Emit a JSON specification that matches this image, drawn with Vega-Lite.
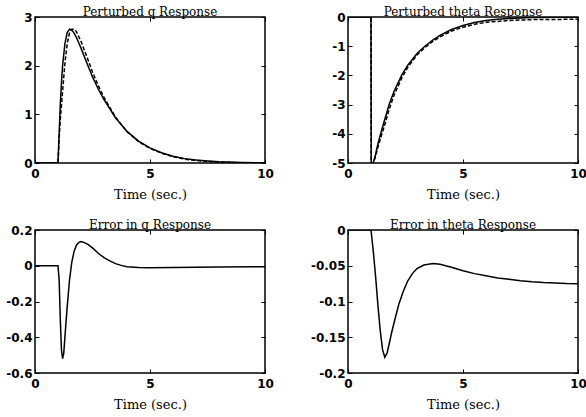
{
  "$schema": "https://vega.github.io/schema/vega-lite/v6.json",
  "background": "white",
  "padding": {"left": 5, "top": 5, "right": 0, "bottom": 0},
  "autosize": {"type": "pad"},
  "datasets": {
    "q": [
      {"t": 0, "v": 0, "s": "a"}, {"t": 1, "v": 0, "s": "a"}, {"t": 1.05, "v": 0.6, "s": "a"}, {"t": 1.1, "v": 1.2, "s": "a"}, {"t": 1.15, "v": 1.65, "s": "a"}, {"t": 1.2, "v": 2.0, "s": "a"}, {"t": 1.3, "v": 2.45, "s": "a"}, {"t": 1.4, "v": 2.68, "s": "a"}, {"t": 1.5, "v": 2.75, "s": "a"}, {"t": 1.6, "v": 2.73, "s": "a"}, {"t": 1.7, "v": 2.67, "s": "a"}, {"t": 1.8, "v": 2.58, "s": "a"}, {"t": 1.9, "v": 2.47, "s": "a"}, {"t": 2.0, "v": 2.36, "s": "a"}, {"t": 2.25, "v": 2.06, "s": "a"}, {"t": 2.5, "v": 1.77, "s": "a"}, {"t": 2.75, "v": 1.52, "s": "a"}, {"t": 3.0, "v": 1.3, "s": "a"}, {"t": 3.5, "v": 0.93, "s": "a"}, {"t": 4.0, "v": 0.65, "s": "a"}, {"t": 4.5, "v": 0.45, "s": "a"}, {"t": 5, "v": 0.31, "s": "a"}, {"t": 5.5, "v": 0.21, "s": "a"}, {"t": 6, "v": 0.14, "s": "a"}, {"t": 6.5, "v": 0.09, "s": "a"}, {"t": 7, "v": 0.06, "s": "a"}, {"t": 7.5, "v": 0.04, "s": "a"}, {"t": 8, "v": 0.025, "s": "a"}, {"t": 9, "v": 0.01, "s": "a"}, {"t": 10, "v": 0.004, "s": "a"},
      {"t": 0, "v": 0, "s": "b"}, {"t": 1, "v": 0, "s": "b"}, {"t": 1.05, "v": 0.52, "s": "b"}, {"t": 1.1, "v": 0.9, "s": "b"}, {"t": 1.15, "v": 1.18, "s": "b"}, {"t": 1.2, "v": 1.48, "s": "b"}, {"t": 1.3, "v": 2.05, "s": "b"}, {"t": 1.4, "v": 2.45, "s": "b"}, {"t": 1.5, "v": 2.67, "s": "b"}, {"t": 1.6, "v": 2.75, "s": "b"}, {"t": 1.7, "v": 2.75, "s": "b"}, {"t": 1.8, "v": 2.7, "s": "b"}, {"t": 1.9, "v": 2.6, "s": "b"}, {"t": 2.0, "v": 2.5, "s": "b"}, {"t": 2.25, "v": 2.19, "s": "b"}, {"t": 2.5, "v": 1.87, "s": "b"}, {"t": 2.75, "v": 1.59, "s": "b"}, {"t": 3.0, "v": 1.35, "s": "b"}, {"t": 3.5, "v": 0.94, "s": "b"}, {"t": 4.0, "v": 0.645, "s": "b"}, {"t": 4.5, "v": 0.44, "s": "b"}, {"t": 5, "v": 0.3, "s": "b"}, {"t": 5.5, "v": 0.2, "s": "b"}, {"t": 6, "v": 0.13, "s": "b"}, {"t": 6.5, "v": 0.08, "s": "b"}, {"t": 7, "v": 0.052, "s": "b"}, {"t": 7.5, "v": 0.032, "s": "b"}, {"t": 8, "v": 0.018, "s": "b"}, {"t": 9, "v": 0.004, "s": "b"}, {"t": 10, "v": 0, "s": "b"}
    ],
    "theta": [
      {"t": 0, "v": 0, "s": "a"}, {"t": 1, "v": 0, "s": "a"}, {"t": 1.01, "v": -5, "s": "a"}, {"t": 1.1, "v": -5, "s": "a"}, {"t": 1.2, "v": -4.7, "s": "a"}, {"t": 1.3, "v": -4.35, "s": "a"}, {"t": 1.42, "v": -4, "s": "a"}, {"t": 1.6, "v": -3.5, "s": "a"}, {"t": 1.79, "v": -3, "s": "a"}, {"t": 2.0, "v": -2.55, "s": "a"}, {"t": 2.33, "v": -2, "s": "a"}, {"t": 2.6, "v": -1.65, "s": "a"}, {"t": 3.0, "v": -1.25, "s": "a"}, {"t": 3.34, "v": -1.0, "s": "a"}, {"t": 3.7, "v": -0.78, "s": "a"}, {"t": 4.0, "v": -0.63, "s": "a"}, {"t": 4.5, "v": -0.43, "s": "a"}, {"t": 5, "v": -0.29, "s": "a"}, {"t": 5.5, "v": -0.19, "s": "a"}, {"t": 6, "v": -0.12, "s": "a"}, {"t": 6.5, "v": -0.08, "s": "a"}, {"t": 7, "v": -0.05, "s": "a"}, {"t": 8, "v": -0.02, "s": "a"}, {"t": 9, "v": -0.01, "s": "a"}, {"t": 10, "v": 0, "s": "a"},
      {"t": 0, "v": 0, "s": "b"}, {"t": 1, "v": 0, "s": "b"}, {"t": 1.01, "v": -5, "s": "b"}, {"t": 1.1, "v": -5, "s": "b"}, {"t": 1.2, "v": -4.77, "s": "b"}, {"t": 1.3, "v": -4.46, "s": "b"}, {"t": 1.42, "v": -4.14, "s": "b"}, {"t": 1.6, "v": -3.68, "s": "b"}, {"t": 1.79, "v": -3.16, "s": "b"}, {"t": 2.0, "v": -2.68, "s": "b"}, {"t": 2.33, "v": -2.1, "s": "b"}, {"t": 2.6, "v": -1.72, "s": "b"}, {"t": 3.0, "v": -1.3, "s": "b"}, {"t": 3.34, "v": -1.05, "s": "b"}, {"t": 3.7, "v": -0.83, "s": "b"}, {"t": 4.0, "v": -0.68, "s": "b"}, {"t": 4.5, "v": -0.48, "s": "b"}, {"t": 5, "v": -0.35, "s": "b"}, {"t": 5.5, "v": -0.25, "s": "b"}, {"t": 6, "v": -0.18, "s": "b"}, {"t": 6.5, "v": -0.15, "s": "b"}, {"t": 7, "v": -0.12, "s": "b"}, {"t": 8, "v": -0.09, "s": "b"}, {"t": 9, "v": -0.084, "s": "b"}, {"t": 10, "v": -0.075, "s": "b"}
    ],
    "eq": [
      {"t": 0, "v": 0}, {"t": 1, "v": 0}, {"t": 1.05, "v": -0.08}, {"t": 1.1, "v": -0.3}, {"t": 1.15, "v": -0.47}, {"t": 1.2, "v": -0.52}, {"t": 1.25, "v": -0.49}, {"t": 1.3, "v": -0.4}, {"t": 1.4, "v": -0.23}, {"t": 1.5, "v": -0.08}, {"t": 1.6, "v": 0.02}, {"t": 1.7, "v": 0.08}, {"t": 1.8, "v": 0.115}, {"t": 1.9, "v": 0.13}, {"t": 2.0, "v": 0.135}, {"t": 2.1, "v": 0.132}, {"t": 2.3, "v": 0.12}, {"t": 2.5, "v": 0.1}, {"t": 2.75, "v": 0.07}, {"t": 3.0, "v": 0.045}, {"t": 3.25, "v": 0.027}, {"t": 3.5, "v": 0.012}, {"t": 3.75, "v": 0.002}, {"t": 4.0, "v": -0.005}, {"t": 4.5, "v": -0.01}, {"t": 5, "v": -0.011}, {"t": 6, "v": -0.01}, {"t": 7, "v": -0.008}, {"t": 8, "v": -0.007}, {"t": 10, "v": -0.006}
    ],
    "et": [
      {"t": 0, "v": 0}, {"t": 1.0, "v": 0}, {"t": 1.05, "v": -0.015}, {"t": 1.1, "v": -0.03}, {"t": 1.2, "v": -0.065}, {"t": 1.3, "v": -0.105}, {"t": 1.4, "v": -0.14}, {"t": 1.5, "v": -0.167}, {"t": 1.6, "v": -0.178}, {"t": 1.7, "v": -0.172}, {"t": 1.8, "v": -0.158}, {"t": 1.9, "v": -0.143}, {"t": 2.0, "v": -0.13}, {"t": 2.2, "v": -0.105}, {"t": 2.4, "v": -0.086}, {"t": 2.6, "v": -0.071}, {"t": 2.8, "v": -0.061}, {"t": 3.0, "v": -0.054}, {"t": 3.3, "v": -0.049}, {"t": 3.7, "v": -0.047}, {"t": 4.0, "v": -0.048}, {"t": 4.5, "v": -0.052}, {"t": 5, "v": -0.057}, {"t": 5.5, "v": -0.061}, {"t": 6, "v": -0.064}, {"t": 6.5, "v": -0.067}, {"t": 7, "v": -0.069}, {"t": 7.5, "v": -0.071}, {"t": 8, "v": -0.0725}, {"t": 8.5, "v": -0.0735}, {"t": 9, "v": -0.074}, {"t": 9.5, "v": -0.0748}, {"t": 10, "v": -0.0752}
    ]
  },
  "columns": 2,
  "spacing": {"row": 16, "column": 34},
  "concat": [
    {
      "width": 230, "height": 146,
      "title": {"text": "Perturbed q Response"},
      "layer": [
        {
          "data": {"name": "q"},
          "transform": [{"filter": "datum.s == 'a'"}],
          "mark": {"type": "line", "color": "black", "strokeWidth": 1.5, "clip": true},
          "encoding": {
            "x": {"field": "t", "type": "quantitative", "scale": {"domain": [0, 10], "nice": false}, "axis": {"orient": "bottom", "values": [0, 5, 10], "title": "Time (sec.)"}},
            "y": {"field": "v", "type": "quantitative", "scale": {"domain": [0, 3], "nice": false, "zero": false}, "axis": {"orient": "left", "values": [0, 1, 2, 3], "title": null}}
          }
        },
        {
          "data": {"name": "q"},
          "transform": [{"filter": "datum.s == 'b'"}],
          "mark": {"type": "line", "color": "black", "strokeWidth": 1.5, "strokeDash": [4, 2], "clip": true},
          "encoding": {
            "x": {"field": "t", "type": "quantitative", "axis": {"orient": "top", "values": [0, 5, 10], "labels": false, "title": null}},
            "y": {"field": "v", "type": "quantitative", "axis": {"orient": "right", "values": [0, 1, 2, 3], "labels": false, "title": null}}
          }
        }
      ],
      "resolve": {"axis": {"x": "independent", "y": "independent"}}
    },
    {
      "width": 230, "height": 146,
      "title": {"text": "Perturbed theta Response"},
      "layer": [
        {
          "data": {"name": "theta"},
          "transform": [{"filter": "datum.s == 'a'"}],
          "mark": {"type": "line", "color": "black", "strokeWidth": 1.5, "clip": true},
          "encoding": {
            "x": {"field": "t", "type": "quantitative", "scale": {"domain": [0, 10], "nice": false}, "axis": {"orient": "bottom", "values": [0, 5, 10], "title": "Time (sec.)"}},
            "y": {"field": "v", "type": "quantitative", "scale": {"domain": [-5, 0], "nice": false, "zero": false}, "axis": {"orient": "left", "values": [-5, -4, -3, -2, -1, 0], "title": null}}
          }
        },
        {
          "data": {"name": "theta"},
          "transform": [{"filter": "datum.s == 'b'"}],
          "mark": {"type": "line", "color": "black", "strokeWidth": 1.5, "strokeDash": [4, 2], "clip": true},
          "encoding": {
            "x": {"field": "t", "type": "quantitative", "axis": {"orient": "top", "values": [0, 5, 10], "labels": false, "title": null}},
            "y": {"field": "v", "type": "quantitative", "axis": {"orient": "right", "values": [-5, -4, -3, -2, -1, 0], "labels": false, "title": null}}
          }
        }
      ],
      "resolve": {"axis": {"x": "independent", "y": "independent"}}
    },
    {
      "width": 230, "height": 143,
      "title": {"text": "Error in q Response"},
      "layer": [
        {
          "data": {"name": "eq"},
          "mark": {"type": "line", "color": "black", "strokeWidth": 1.5, "clip": true},
          "encoding": {
            "x": {"field": "t", "type": "quantitative", "scale": {"domain": [0, 10], "nice": false}, "axis": {"orient": "bottom", "values": [0, 5, 10], "title": "Time (sec.)"}},
            "y": {"field": "v", "type": "quantitative", "scale": {"domain": [-0.6, 0.2], "nice": false, "zero": false}, "axis": {"orient": "left", "values": [-0.6, -0.4, -0.2, 0, 0.2], "title": null}}
          }
        },
        {
          "data": {"name": "eq"},
          "mark": {"type": "line", "color": "black", "strokeWidth": 1.5, "strokeOpacity": 0, "clip": true},
          "encoding": {
            "x": {"field": "t", "type": "quantitative", "axis": {"orient": "top", "values": [0, 5, 10], "labels": false, "title": null}},
            "y": {"field": "v", "type": "quantitative", "axis": {"orient": "right", "values": [-0.6, -0.4, -0.2, 0, 0.2], "labels": false, "title": null}}
          }
        }
      ],
      "resolve": {"axis": {"x": "independent", "y": "independent"}}
    },
    {
      "width": 230, "height": 143,
      "title": {"text": "Error in theta Response"},
      "layer": [
        {
          "data": {"name": "et"},
          "mark": {"type": "line", "color": "black", "strokeWidth": 1.5, "clip": true},
          "encoding": {
            "x": {"field": "t", "type": "quantitative", "scale": {"domain": [0, 10], "nice": false}, "axis": {"orient": "bottom", "values": [0, 5, 10], "title": "Time (sec.)"}},
            "y": {"field": "v", "type": "quantitative", "scale": {"domain": [-0.2, 0], "nice": false, "zero": false}, "axis": {"orient": "left", "values": [-0.2, -0.15, -0.1, -0.05, 0], "title": null}}
          }
        },
        {
          "data": {"name": "et"},
          "mark": {"type": "line", "color": "black", "strokeWidth": 1.5, "strokeOpacity": 0, "clip": true},
          "encoding": {
            "x": {"field": "t", "type": "quantitative", "axis": {"orient": "top", "values": [0, 5, 10], "labels": false, "title": null}},
            "y": {"field": "v", "type": "quantitative", "axis": {"orient": "right", "values": [-0.2, -0.15, -0.1, -0.05, 0], "labels": false, "title": null}}
          }
        }
      ],
      "resolve": {"axis": {"x": "independent", "y": "independent"}}
    }
  ],
  "config": {
    "view": {"stroke": "black", "strokeWidth": 1.5},
    "axis": {
      "domain": false, "grid": false, "labelFlush": false, "labelOverlap": false,
      "labelFont": "DejaVu Sans", "labelFontWeight": "bold", "labelFontSize": 12, "labelColor": "black",
      "tickColor": "black", "tickSize": -4, "tickWidth": 1,
      "format": "~r",
      "labelExpr": "replace(datum.label, '\u2212', '-')",
      "titleFont": "DejaVu Serif", "titleFontSize": 13, "titleFontWeight": "normal", "titleColor": "black", "titlePadding": 9
    },
    "axisX": {"labelPadding": 9},
    "axisY": {"labelPadding": 7},
    "title": {"font": "DejaVu Serif", "fontSize": 12, "fontWeight": "normal", "color": "black", "offset": -8}
  }
}
